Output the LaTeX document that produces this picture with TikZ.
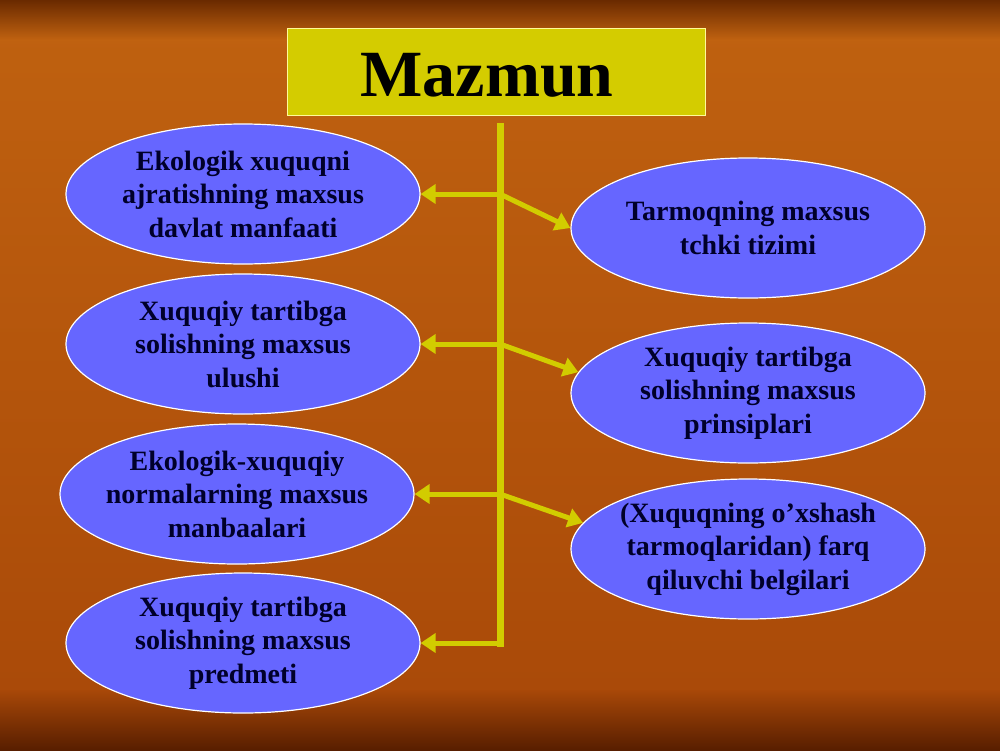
\documentclass[tikz,border=0pt]{standalone}
\usepackage{fontspec}
\setmainfont{Liberation Serif}
\usetikzlibrary{shapes.geometric,arrows.meta}
\definecolor{bgtop}{HTML}{C06210}
\definecolor{bgbot}{HTML}{A84808}
\definecolor{bgdark}{HTML}{6A2A00}
\definecolor{bgdeep}{HTML}{581E00}
\definecolor{titlefill}{HTML}{D4CC00}
\definecolor{barcol}{HTML}{D2CC00}
\definecolor{ovalblue}{HTML}{6666FF}
\definecolor{ovaltext}{HTML}{00002A}
\begin{document}
\begin{tikzpicture}[x=1pt, y=-1pt,
	idea/.style={ellipse, draw=white, line width=1.2pt, fill=ovalblue, minimum width=354pt, minimum height=140pt, inner xsep=-12pt, inner ysep=-8pt, align=center, text=ovaltext, font=\bfseries\fontsize{28}{33.5}\selectfont},
	titlebox/.style={draw=yellow!40, line width=1pt, fill=titlefill, minimum width=418pt, minimum height=87pt, inner sep=0pt},
	bar/.style={draw=barcol, line width=7pt},
	link/.style={draw=barcol, line width=5pt, -{Triangle[length=15pt,width=19pt]}}]
	\useasboundingbox (0,0) rectangle (1000,750);
	% background
	\shade[top color=bgtop, bottom color=bgbot] (0,0) rectangle (1000,750);
	\shade[top color=bgdark, bottom color=bgtop] (0,0) rectangle (1000,40);
	\shade[top color=bgbot, bottom color=bgdeep] (0,690) rectangle (1000,750);
	% title
	\node[titlebox] (title) at (496,71.5) {};
	\node[font=\bfseries\fontsize{66}{79}\selectfont] (titletext) at (487,75) {Mazmun};
	% ovals
	\node[idea] (l1) at (243,194) {Ekologik xuquqni\\ajratishning maxsus\\davlat manfaati};
	\node[idea] (l2) at (243,344) {Xuquqiy tartibga\\solishning maxsus\\ulushi};
	\node[idea] (l3) at (237,494) {Ekologik-xuquqiy\\normalarning maxsus\\manbaalari};
	\node[idea] (l4) at (243,643) {Xuquqiy tartibga\\solishning maxsus\\predmeti};
	\node[idea] (r1) at (748,228) {Tarmoqning maxsus\\tchki tizimi};
	\node[idea] (r2) at (748,393) {Xuquqiy tartibga\\solishning maxsus\\prinsiplari};
	\node[idea] (r3) at (748,549) {(Xuquqning o’xshash\\tarmoqlaridan) farq\\qiluvchi belgilari};
	% trunk and branches
	\coordinate (top) at (500,123);
	\coordinate (b1) at (500,194);
	\coordinate (b2) at (500,344);
	\coordinate (b3) at (500,494);
	\coordinate (bend) at (500,646.5);
	\coordinate (b4) at (496.5,643);
	\draw[link] (b1) -- (l1.east);
	\draw[link] (b1) -- (r1.west);
	\draw[link] (b2) -- (l2.east);
	\draw[link] (b2) -- (r2.173);
	\draw[link] (b3) -- (l3.east);
	\draw[link] (b3) -- (r3.171);
	\draw[bar] (top) -- (bend);
	\draw[link] (b4) -- (l4.east);
\end{tikzpicture}
\end{document}
